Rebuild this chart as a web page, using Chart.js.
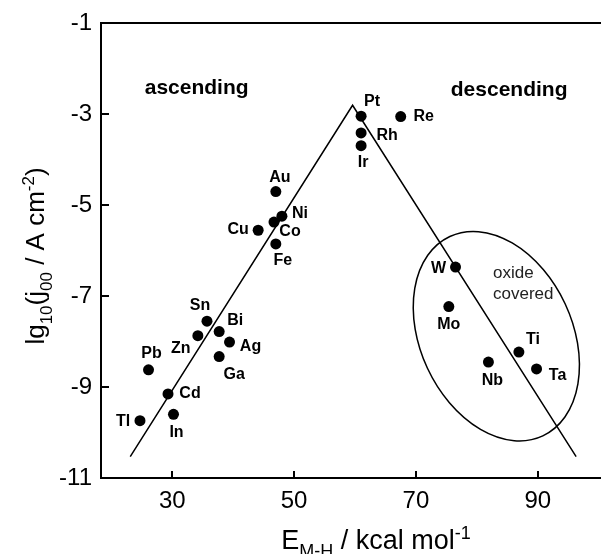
<!DOCTYPE html>
<html>
<head>
<meta charset="utf-8">
<script src="https://cdn.jsdelivr.net/npm/chart.js@4.4.1/dist/chart.umd.min.js"></script>
<style>
  html, body { margin: 0; padding: 0; background: #fff; }
</style>
</head>
<body>
<canvas id="myChart" width="606" height="554"></canvas>
<script>
// metal / M-H bond energy (kcal/mol) / lg exchange current density
const metals     = ['Pt', 'Rh', 'Ir', 'Re', 'Au', 'Ni', 'Co', 'Cu', 'Fe', 'Sn', 'Zn', 'Bi', 'Ag', 'Ga', 'Pb', 'Cd', 'Tl', 'In', 'W', 'Mo', 'Ti', 'Nb', 'Ta'];
const bondEnergy = [61.0, 61.0, 61.0, 67.5, 47.0, 48.0, 46.7, 44.1, 47.0, 35.7, 34.2, 37.7, 39.4, 37.7, 26.1, 29.3, 24.7, 30.2, 76.5, 75.4, 86.9, 81.9, 89.8];
const logCurrent = [-3.04, -3.41, -3.69, -3.05, -4.70, -5.24, -5.37, -5.55, -5.85, -7.55, -7.87, -7.78, -8.01, -8.33, -8.62, -9.15, -9.74, -9.60, -6.36, -7.23, -8.23, -8.45, -8.60];

// the two branches of the volcano: start, apex, end
const volcanoX = [23.1, 59.6, 96.3];
const volcanoY = [-10.53, -2.80, -10.53];

const xTicks = [30, 50, 70, 90];
const yTicks = [-11, -9, -7, -5, -3, -1];

// oxide covered group, centre of the ring
const oxideCentre = [83.2, -7.88];

const FONT = "'Liberation Sans', Arial, sans-serif";

// where each metal's name sits relative to its dot (px)
const labelOffset = {
  Pt: [11, -15], Rh: [26, 3], Ir: [2, 17], Re: [23, 0],
  Au: [4, -14], Ni: [18, -3], Co: [16, 10], Cu: [-20, -1], Fe: [7, 17],
  Sn: [-7, -16], Zn: [-17, 13], Bi: [16, -11], Ag: [21, 5], Ga: [15, 18],
  Pb: [3, -16], Cd: [22, 0], Tl: [-17, 1], In: [3, 18],
  W: [-17, 2], Mo: [0, 18], Ti: [14, -12], Nb: [4, 19], Ta: [21, 7]
};

// draw a run of text pieces, some of them sub- or superscript
function drawRich(ctx, parts, size, x, y, align) {
  const small = Math.round(size * 0.65);
  const widths = parts.map(p => {
    ctx.font = (p.sub || p.sup ? small : size) + 'px ' + FONT;
    return ctx.measureText(p.t).width;
  });
  const total = widths.reduce((a, b) => a + b, 0);
  let cx = align === 'center' ? x - total / 2 : x;
  ctx.textAlign = 'left';
  ctx.textBaseline = 'alphabetic';
  parts.forEach((p, i) => {
    ctx.font = (p.sub || p.sup ? small : size) + 'px ' + FONT;
    let dy = 0;
    if (p.sub) dy = size * 0.3;
    if (p.sup) dy = -size * 0.38;
    ctx.fillText(p.t, cx, y + dy);
    cx += widths[i];
  });
}

const inwardTicks = {
  id: 'inwardTicks',
  afterDatasetsDraw(chart) {
    const {ctx, chartArea: a, scales: {x, y}} = chart;
    ctx.save();
    ctx.strokeStyle = '#000';
    ctx.lineWidth = 2;
    ctx.beginPath();
    xTicks.forEach(v => {
      const px = Math.round(x.getPixelForValue(v));
      ctx.moveTo(px, a.bottom);
      ctx.lineTo(px, a.bottom - 7);
    });
    yTicks.forEach(v => {
      const py = Math.round(y.getPixelForValue(v));
      ctx.moveTo(a.left, py);
      ctx.lineTo(a.left + 8, py);
    });
    ctx.stroke();
    ctx.restore();
  }
};

const annotations = {
  id: 'annotations',
  afterDatasetsDraw(chart) {
    const {ctx, scales: {x, y}} = chart;
    ctx.save();

    // ring round the oxide covered metals
    ctx.strokeStyle = '#000';
    ctx.lineWidth = 1.5;
    ctx.beginPath();
    ctx.ellipse(x.getPixelForValue(oxideCentre[0]), y.getPixelForValue(oxideCentre[1]),
                76, 110, -25 * Math.PI / 180, 0, 2 * Math.PI);
    ctx.stroke();

    // metal names
    ctx.fillStyle = '#000';
    ctx.font = 'bold 16px ' + FONT;
    ctx.textAlign = 'center';
    ctx.textBaseline = 'middle';
    metals.forEach((m, i) => {
      const off = labelOffset[m];
      ctx.fillText(m, x.getPixelForValue(bondEnergy[i]) + off[0], y.getPixelForValue(logCurrent[i]) + off[1]);
    });

    ctx.font = 'bold 21px ' + FONT;
    ctx.fillText('ascending', x.getPixelForValue(34.0), y.getPixelForValue(-2.42));
    ctx.fillText('descending', x.getPixelForValue(85.3), y.getPixelForValue(-2.48));

    ctx.font = '17px ' + FONT;
    ctx.fillStyle = '#222';
    ctx.textAlign = 'left';
    ctx.fillText('oxide', 493, 273);
    ctx.fillText('covered', 493, 294);
    ctx.restore();
  },
  afterDraw(chart) {
    const {ctx} = chart;
    ctx.save();
    ctx.fillStyle = '#000';
    drawRich(ctx, [{t: 'E'}, {t: 'M-H', sub: true}, {t: ' / kcal mol'}, {t: '-1', sup: true}], 27, 376, 549, 'center');
    ctx.translate(44, 256);
    ctx.rotate(-Math.PI / 2);
    drawRich(ctx, [{t: 'lg'}, {t: '10', sub: true}, {t: '(j'}, {t: '00', sub: true}, {t: ' / A cm'}, {t: '-2', sup: true}, {t: ')'}], 26, 0, 0, 'center');
    ctx.restore();
  }
};

const ctx = document.getElementById('myChart');
const myChart = new Chart(ctx, {
  data: {
    datasets: [
      {
        type: 'line',
        data: volcanoX.map((v, i) => ({x: v, y: volcanoY[i]})),
        borderColor: '#000',
        borderWidth: 1.5,
        pointRadius: 0,
        fill: false,
        tension: 0
      },
      {
        type: 'scatter',
        data: bondEnergy.map((v, i) => ({x: v, y: logCurrent[i]})),
        backgroundColor: '#000',
        borderWidth: 0,
        pointRadius: 5.5,
        pointHoverRadius: 5.5
      }
    ]
  },
  options: {
    responsive: false,
    animation: false,
    layout: { padding: 0 },
    plugins: {
      legend: { display: false },
      tooltip: { enabled: false }
    },
    scales: {
      x: {
        type: 'linear',
        position: 'bottom',
        min: 18.3,
        max: 100.3,
        afterBuildTicks: s => { s.ticks = xTicks.map(v => ({value: v})); },
        afterFit: s => { s.height = 76; },
        grid: { display: false, drawTicks: false },
        border: { display: true, width: 2, color: '#000' },
        ticks: { color: '#000', padding: 9, maxRotation: 0, font: { family: FONT, size: 24 } }
      },
      x2: {
        type: 'linear',
        position: 'top',
        min: 18.3,
        max: 100.3,
        afterFit: s => { s.height = 20; },
        grid: { display: false, drawTicks: false },
        border: { display: true, width: 2, color: '#000' },
        ticks: { display: false }
      },
      y: {
        type: 'linear',
        min: -11,
        max: -1,
        afterBuildTicks: s => { s.ticks = yTicks.map(v => ({value: v})); },
        afterFit: s => { s.width = 101; },
        grid: { display: false, drawTicks: false },
        border: { display: true, width: 2, color: '#000' },
        ticks: { color: '#000', padding: 9, font: { family: FONT, size: 24 } }
      }
    }
  },
  plugins: [inwardTicks, annotations]
});
</script>
</body>
</html>
